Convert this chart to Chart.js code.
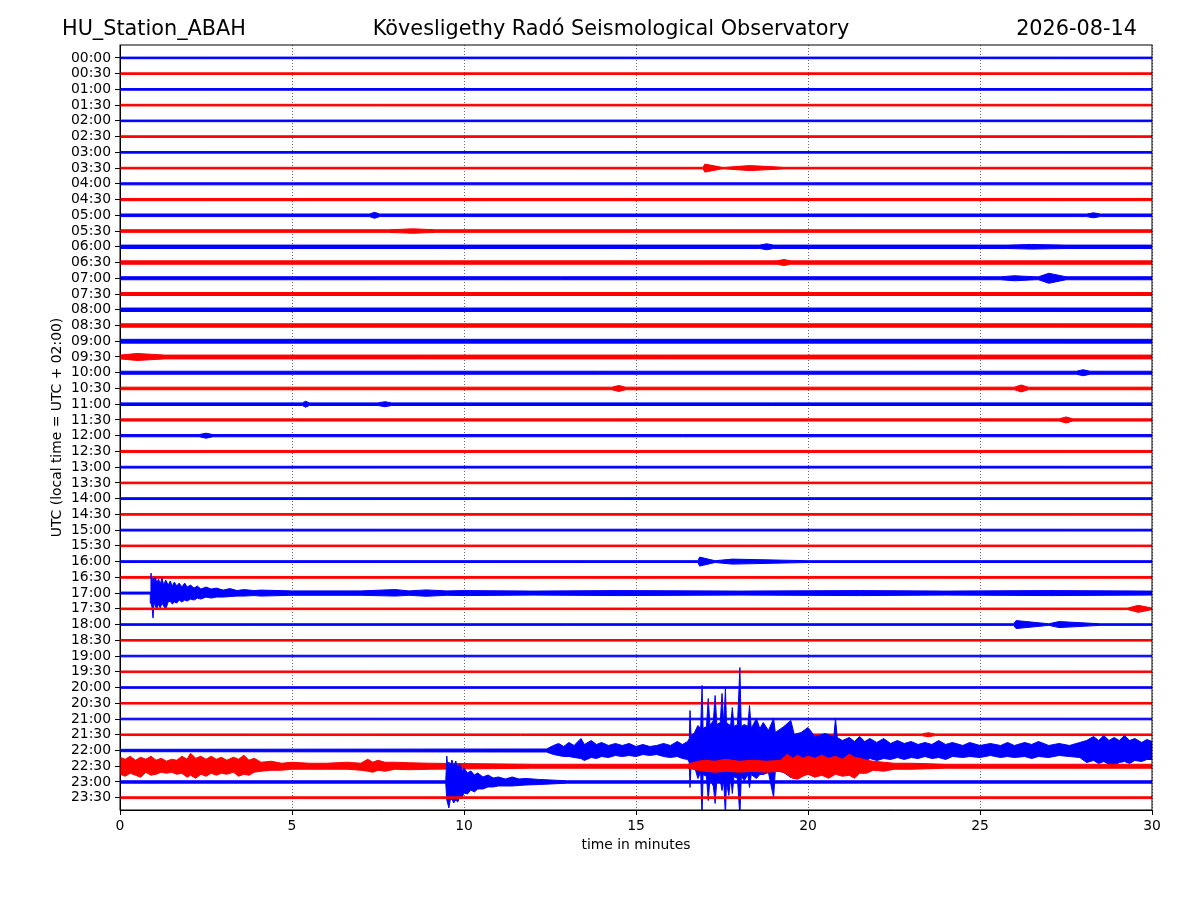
<!DOCTYPE html>
<html>
<head>
<meta charset="utf-8">
<script src="https://cdn.jsdelivr.net/npm/chart.js@4.4.1/dist/chart.umd.min.js"></script>
<style>
  html, body { margin: 0; background: #fff; }
  #wrap { width: 1200px; height: 900px; }
</style>
</head>
<body>
<div id="wrap"><canvas id="heli"></canvas></div>
<script>
/* Helicorder page */
const stationName = 'HU_Station_ABAH';
const observatory = 'Kövesligethy Radó Seismological Observatory';
const dayLabel = '2026-08-14';

const timeLabels = [
    '00:00','00:30','01:00','01:30','02:00','02:30','03:00','03:30',
    '04:00','04:30','05:00','05:30','06:00','06:30','07:00','07:30',
    '08:00','08:30','09:00','09:30','10:00','10:30','11:00','11:30',
    '12:00','12:30','13:00','13:30','14:00','14:30','15:00','15:30',
    '16:00','16:30','17:00','17:30','18:00','18:30','19:00','19:30',
    '20:00','20:30','21:00','21:30','22:00','22:30','23:00','23:30'
];
const minuteTicks = [0, 5, 10, 15, 20, 25, 30];

// background noise half-amplitude of each line (amplitude units, 15.74 = one line gap)
const noiseLevel = [
    0.8, 0.8, 0.8, 0.8, 0.8, 0.8, 0.8, 0.8,
    1.0, 1.1, 1.3, 1.3, 1.7, 1.7, 1.5, 1.5,
    1.7, 1.7, 1.9, 1.9, 1.5, 1.3, 1.3, 1.1,
    1.1, 1.0, 0.9, 0.8, 0.9, 0.8, 0.9, 0.8,
    0.9, 0.9, 1.0, 0.8, 0.8, 0.8, 0.8, 0.8,
    0.8, 0.8, 0.8, 0.8, 1.2, 1.6, 1.2, 0.9
];

// small local bursts: [line, start min, peak min, end min, peak amplitude]
const bursts = [
    [7, 16.95, 17.0, 17.5, 4], [7, 17.6, 18.3, 19.3, 2.5],
    [10, 7.25, 7.4, 7.55, 3], [10, 28.1, 28.3, 28.5, 2.5],
    [11, 7.8, 8.5, 9.2, 2.2],
    [12, 18.6, 18.8, 19.0, 3], [12, 25.8, 26.5, 27.5, 2.3],
    [13, 19.1, 19.3, 19.5, 3],
    [14, 25.6, 26.0, 26.6, 2.5], [14, 26.7, 27.0, 27.5, 5],
    [19, 0, 0.5, 1.3, 3.5],
    [20, 27.8, 28.0, 28.2, 3],
    [21, 14.3, 14.5, 14.7, 3], [21, 26.0, 26.2, 26.4, 3.5],
    [22, 5.3, 5.4, 5.5, 3], [22, 7.5, 7.7, 7.9, 2.5],
    [23, 27.3, 27.5, 27.7, 3],
    [24, 2.3, 2.5, 2.7, 2.5],
    [32, 16.8, 16.85, 17.3, 4.5], [32, 17.3, 17.8, 20.0, 2.5],
    [35, 29.3, 29.6, 30, 3.5],
    [36, 25.98, 26.05, 27.0, 4], [36, 27.0, 27.3, 28.5, 3],
    [43, 23.3, 23.5, 23.7, 2]
];

// event envelopes: [min, up, down]
const trace1700 = [
    [0, 1.0, 1.0], [0.88, 1.0, 1.0], [0.9, 20, 10], [0.93, 10, 14], [0.96, 15, 25], [0.99, 12, 9],
    [1.03, 16, 13], [1.07, 10, 16], [1.12, 14, 11], [1.17, 9, 15], [1.22, 15, 10], [1.27, 8, 13],
    [1.33, 13, 16], [1.4, 8, 9], [1.46, 12, 8], [1.52, 7, 11], [1.58, 11, 9], [1.65, 7, 10],
    [1.72, 10, 7], [1.8, 6, 9], [1.88, 10, 7], [1.95, 6, 8], [2.05, 8, 6], [2.15, 5, 7],
    [2.25, 7, 5], [2.35, 4, 6], [2.5, 6, 4], [2.65, 4, 5], [2.8, 5, 4], [3.0, 3, 4],
    [3.2, 4.5, 3.5], [3.4, 2.5, 3], [3.6, 3.5, 3], [3.9, 2.5, 2.5], [4.1, 3, 3], [5, 2.2, 2.2],
    [7, 2.2, 2.2], [8.0, 3.5, 3], [8.4, 2.2, 2.2], [8.9, 3.2, 3.2], [9.5, 2.2, 2.2], [10, 2.5, 2.5],
    [12, 2, 2], [14.5, 2.5, 2.5], [18, 2, 2], [21.5, 2.5, 2.5], [24, 2, 2], [27, 2.5, 2.5], [30, 2, 2]
];
const trace2200 = [
    [0, 1.2, 1.2], [12.4, 1.5, 1.5], [12.6, 5, 4], [12.75, 7, 5], [12.9, 4, 6], [13.05, 8, 6],
    [13.2, 5, 7], [13.4, 12, 8], [13.5, 6, 10], [13.7, 10, 7], [13.85, 6, 8], [14.0, 8, 6],
    [14.2, 5, 7], [14.4, 7, 5], [14.6, 5, 6], [14.8, 7, 5], [15.0, 4, 6], [15.2, 6, 4],
    [15.4, 4, 5], [15.6, 5, 4], [15.8, 7, 6], [16.0, 5, 7], [16.2, 9, 6], [16.35, 6, 8],
    [16.5, 9, 9], [16.55, 12, 12], [16.57, 40, 37], [16.6, 14, 14], [16.7, 18, 16],
    [16.8, 25, 28], [16.88, 22, 22], [16.92, 65, 66], [16.95, 22, 24], [17.05, 24, 26],
    [17.1, 52, 50], [17.15, 25, 28], [17.25, 30, 36], [17.3, 55, 53], [17.35, 26, 30],
    [17.45, 28, 30], [17.5, 57, 40], [17.55, 26, 30], [17.6, 62, 66], [17.63, 28, 32],
    [17.7, 26, 45], [17.75, 25, 26], [17.8, 43, 43], [17.85, 24, 26], [17.95, 26, 28],
    [18.02, 83, 66], [18.06, 24, 26], [18.15, 26, 30], [18.25, 24, 24], [18.3, 45, 37],
    [18.35, 22, 24], [18.5, 32, 28], [18.6, 22, 24], [18.7, 28, 24], [18.85, 20, 22],
    [19.0, 32, 47], [19.05, 18, 20], [19.3, 24, 22], [19.5, 30, 27], [19.6, 16, 16],
    [19.8, 18, 16], [20.0, 23, 20], [20.2, 14, 14], [20.5, 17, 14], [20.75, 14, 12],
    [20.8, 32, 12], [20.85, 13, 11], [21.0, 10, 12], [21.2, 13, 9], [21.35, 9, 12],
    [21.5, 14, 10], [21.65, 9, 11], [21.8, 12, 8], [22.0, 8, 10], [22.2, 12, 8], [22.4, 7, 9],
    [22.6, 10, 7], [22.8, 7, 9], [23.0, 9, 7], [23.2, 6, 8], [23.4, 8, 6], [23.6, 6, 8],
    [23.8, 10, 7], [24.0, 6, 9], [24.2, 8, 6], [24.5, 5, 7], [24.7, 8, 6], [25.0, 5, 7],
    [25.3, 7, 5], [25.6, 5, 7], [25.8, 8, 6], [26.0, 5, 7], [26.3, 8, 6], [26.5, 6, 8],
    [26.7, 9, 6], [27.0, 5, 7], [27.3, 7, 5], [27.6, 5, 6], [27.9, 8, 7], [28.1, 10, 12],
    [28.3, 14, 10], [28.45, 10, 13], [28.6, 15, 11], [28.75, 10, 14], [28.9, 13, 15],
    [29.05, 10, 12], [29.2, 15, 11], [29.35, 10, 13], [29.5, 12, 10], [29.7, 8, 11],
    [29.85, 11, 9], [30, 9, 9]
];
const trace2230 = [
    [0, 9, 8], [0.15, 7, 10], [0.3, 10, 7], [0.45, 6, 9], [0.6, 9, 11], [0.75, 7, 6],
    [0.9, 10, 9], [1.05, 6, 8], [1.2, 8, 6], [1.35, 5, 7], [1.5, 7, 6], [1.65, 6, 8],
    [1.8, 10, 7], [1.95, 7, 11], [2.05, 13, 9], [2.2, 8, 12], [2.35, 10, 8], [2.5, 7, 10],
    [2.65, 10, 7], [2.8, 7, 9], [2.95, 9, 7], [3.1, 6, 8], [3.3, 9, 6], [3.45, 7, 10],
    [3.6, 11, 8], [3.75, 6, 9], [3.9, 8, 6], [4.1, 4, 5], [4.4, 5, 4], [4.7, 3, 4],
    [5.0, 4, 3], [5.5, 3, 3], [6.0, 3, 3], [6.6, 4, 3], [7.0, 3, 4], [7.2, 7, 5],
    [7.35, 4, 6], [7.5, 6, 4], [7.7, 4, 5], [8.0, 4, 3], [8.4, 3.5, 3.5], [9.0, 3, 3],
    [10.5, 2.5, 2.5], [12, 2, 2], [16.5, 2, 2], [16.8, 5, 4], [17.0, 6, 5], [17.3, 5, 6],
    [17.6, 7, 5], [18.0, 5, 6], [18.4, 6, 5], [18.8, 5, 6], [19.2, 6, 5], [19.4, 12, 8],
    [19.55, 8, 12], [19.7, 11, 13], [19.85, 8, 10], [20.0, 10, 8], [20.2, 8, 11], [20.4, 11, 9],
    [20.6, 8, 12], [20.8, 10, 8], [21.0, 7, 10], [21.2, 12, 9], [21.35, 9, 12], [21.5, 8, 7],
    [21.7, 6, 7], [21.9, 5, 4], [22.2, 4, 5], [22.5, 3, 3], [23, 3, 3], [24, 2, 2], [30, 2, 2]
];
const trace2300 = [
    [0, 1.2, 1.2], [9.47, 1.2, 1.2], [9.5, 26, 18], [9.53, 14, 22], [9.56, 20, 26], [9.6, 16, 18],
    [9.65, 22, 17], [9.7, 15, 21], [9.76, 21, 18], [9.82, 14, 20], [9.88, 18, 14], [9.95, 11, 15],
    [10.0, 14, 11], [10.1, 9, 12], [10.2, 11, 8], [10.3, 7, 10], [10.4, 9, 7], [10.55, 5, 7],
    [10.7, 7, 5], [10.85, 4, 5], [11.0, 5, 4], [11.2, 3, 4], [11.4, 5, 4], [11.6, 3, 3.5],
    [11.8, 3.5, 3], [12.2, 2.5, 2.5], [13, 1.2, 1.2], [30, 1.2, 1.2]
];
const eventTraces = { 34: trace1700, 44: trace2200, 45: trace2230, 46: trace2300 };

const GAIN = 15.74; // amplitude units per line gap

function envelopeFor(i) {
    if (eventTraces[i]) return eventTraces[i];
    const n = noiseLevel[i];
    const pts = [[0, n, n]];
    bursts.filter(b => b[0] === i).forEach(b => {
        pts.push([b[1], n, n], [b[2], b[4], b[4]], [b[3], n, n]);
    });
    pts.push([30, n, n]);
    return pts;
}

// closed band: upper edge left->right, lower edge back
function tracePolygon(i, env) {
    const top = env.map(p => ({ x: p[0], y: i - p[1] / GAIN }));
    const bottom = env.slice().reverse().map(p => ({ x: p[0], y: i + p[2] / GAIN }));
    return top.concat(bottom);
}

const headerPlugin = {
    id: 'header',
    afterDraw(chart) {
        const { ctx, chartArea: a } = chart;
        ctx.save();
        ctx.strokeStyle = '#000';
        ctx.lineWidth = 1;
        ctx.strokeRect(a.left, a.top, a.right - a.left, a.bottom - a.top);
        ctx.fillStyle = '#000';
        ctx.font = '20.8px "DejaVu Sans"';
        ctx.textBaseline = 'alphabetic';
        ctx.textAlign = 'left';
        ctx.fillText(stationName, 62, 35);
        ctx.textAlign = 'center';
        ctx.fillText(observatory, 611, 35);
        ctx.textAlign = 'right';
        ctx.fillText(dayLabel, 1137, 35);
        ctx.restore();
    }
};

Chart.defaults.font.family = '"DejaVu Sans"';
Chart.defaults.font.size = 13.9;
Chart.defaults.color = '#000';

new Chart(document.getElementById('heli'), {
    type: 'line',
    data: {
        datasets: timeLabels.map((lab, i) => {
            const col = i % 2 ? '#ff0000' : '#0000ff';
            return {
                label: lab,
                data: tracePolygon(i, envelopeFor(i)),
                borderColor: col,
                backgroundColor: col,
                borderWidth: 1,
                pointRadius: 0,
                tension: 0,
                fill: 'shape',
                order: timeLabels.length - i
            };
        })
    },
    options: {
        responsive: true,
        maintainAspectRatio: false,
        animation: false,
        events: [],
        layout: { padding: { top: 45, right: 48, bottom: 42.7, left: 45 } },
        plugins: { legend: { display: false }, tooltip: { enabled: false } },
        scales: {
            x: {
                type: 'linear',
                min: 0, max: 30,
                afterFit: s => { s.height = 47.3; },
                afterBuildTicks: s => { s.ticks = minuteTicks.map(v => ({ value: v })); },
                ticks: { padding: 3, maxRotation: 0 },
                grid: {
                    color: 'rgba(0,0,0,0.75)', lineWidth: 0.8,
                    tickLength: 5, tickColor: '#000', tickWidth: 1, tickBorderDash: []
                },
                border: { display: true, color: '#000', width: 1, dash: [1, 2] },
                title: { display: true, text: 'time in minutes', padding: { top: 4, bottom: 4 } }
            },
            y: {
                type: 'linear',
                reverse: true,
                min: -0.82, max: 47.78,
                afterFit: s => { s.width = 75; },
                afterBuildTicks: s => { s.ticks = timeLabels.map((l, i) => ({ value: i })); },
                ticks: { autoSkip: false, padding: 4, callback: v => timeLabels[v] },
                grid: { drawOnChartArea: false, tickLength: 5, tickColor: '#000', tickWidth: 1 },
                border: { display: true, color: '#000', width: 1 },
                title: { display: true, text: 'UTC (local time = UTC + 02:00)', padding: { top: 4, bottom: 4 } }
            }
        }
    },
    plugins: [headerPlugin]
});
</script>
</body>
</html>
